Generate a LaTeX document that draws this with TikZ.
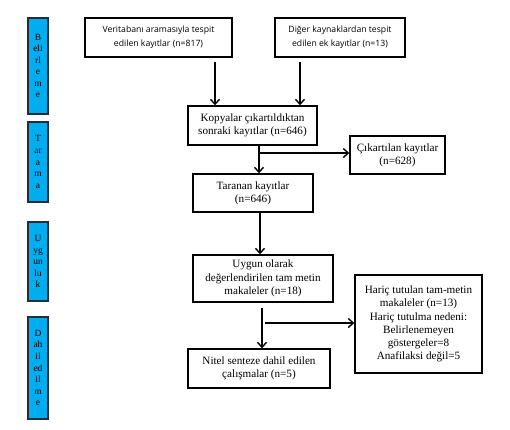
\documentclass[tikz,border=0pt]{standalone}
\usepackage{fontspec}
\setmainfont{Liberation Serif}
\newfontfamily\topfont{Open Sans}
\usepackage{xcolor}
\usetikzlibrary{calc,arrows.meta}
\definecolor{barblue}{RGB}{0,174,239}
\definecolor{barline}{RGB}{35,45,55}

\begin{document}
\begin{tikzpicture}
    [x=1bp,y=-1bp,line join=miter,
     box/.style={draw,line width=1.4bp,align=center,inner sep=0pt,font=\fontsize{11.2}{13.3}\selectfont},
     topbox/.style={box,font=\topfont\fontsize{8.7}{14}\selectfont},
     bar/.style={draw=barline,fill=barblue,line width=1.4bp,minimum width=20bp,align=center,inner sep=0pt,font=\fontsize{9.5}{11.6}\selectfont},
     arr/.style={line width=1.4bp,-{Straight Barb[length=5bp,width=9bp]}}]

    \useasboundingbox (0,0) rectangle (510,429);

    % phase bars
    \node[bar,minimum height=96bp]  (belirleme) at (38,66)  {B\\eli\\rl\\e\\m\\e};
    \node[bar,minimum height=80bp]  (tarama)    at (38,162) {T\\ar\\a\\m\\a};
    \node[bar,minimum height=79bp]  (uygunluk)  at (38,261.5) {U\\yg\\un\\lu\\k};
    \node[bar,minimum height=102bp] (dahil)     at (38,368) {D\\ah\\il\\ed\\il\\m\\e};

    % boxes
    \node[topbox,minimum width=147bp,minimum height=39bp] (veri)  at (158.5,37.5) {Veritabanı aramasıyla tespit\\edilen kayıtlar (n=817)};
    \node[topbox,minimum width=130bp,minimum height=39bp] (diger) at (340,37.5)   {Diğer kaynaklardan tespit\\edilen ek kayıtlar (n=13)};
    \node[box,minimum width=129bp,minimum height=39bp] (kopya)   at (252.5,125.5) {Kopyalar çıkartıldıktan\\sonraki kayıtlar (n=646)};
    \node[box,minimum width=95bp,minimum height=38bp]  (cikar)   at (397.5,155)   {Çıkartılan kayıtlar\\(n=628)};
    \node[box,minimum width=120bp,minimum height=38bp] (taranan) at (253,193)     {Taranan kayıtlar\\(n=646)};
    \node[box,minimum width=140bp,minimum height=47bp] (uygun)   at (263,278.5)   {Uygun olarak\\değerlendirilen tam metin\\makaleler (n=18)};
    \node[box,minimum width=127bp,minimum height=98bp] (haric)   at (418.5,324)   {Hariç tutulan tam-metin\\makaleler (n=13)\\Hariç tutulma nedeni:\\Belirlenemeyen\\göstergeler=8\\Anafilaksi değil=5};
    \node[box,minimum width=142bp,minimum height=39bp] (nitel)   at (259,368.5)   {Nitel senteze dahil edilen\\çalışmalar (n=5)};

    % arrows
    \coordinate (veriout)    at (215,62);
    \coordinate (digerout)   at (300,62);
    \coordinate (kopyaout)   at (259,0);
    \coordinate (cikarsplit) at (259,153);
    \coordinate (tarananout) at (260,0);
    \coordinate (uygunout)   at (262,308);
    \coordinate (haricin)    at (265,323);

    \draw[arr] (veriout) -- (veriout |- kopya.north);
    \draw[arr] (digerout) -- (digerout |- kopya.north);
    \draw[arr] (kopya.south -| kopyaout) -- (taranan.north -| kopyaout);
    \draw[arr] (cikarsplit) -- (cikarsplit -| cikar.west);
    \draw[arr] (taranan.south -| tarananout) -- (uygun.north -| tarananout);
    \draw[arr] (uygunout) -- (uygunout |- nitel.north);
    \draw[arr] (haricin) -- (haricin -| haric.west);
\end{tikzpicture}
\end{document}
